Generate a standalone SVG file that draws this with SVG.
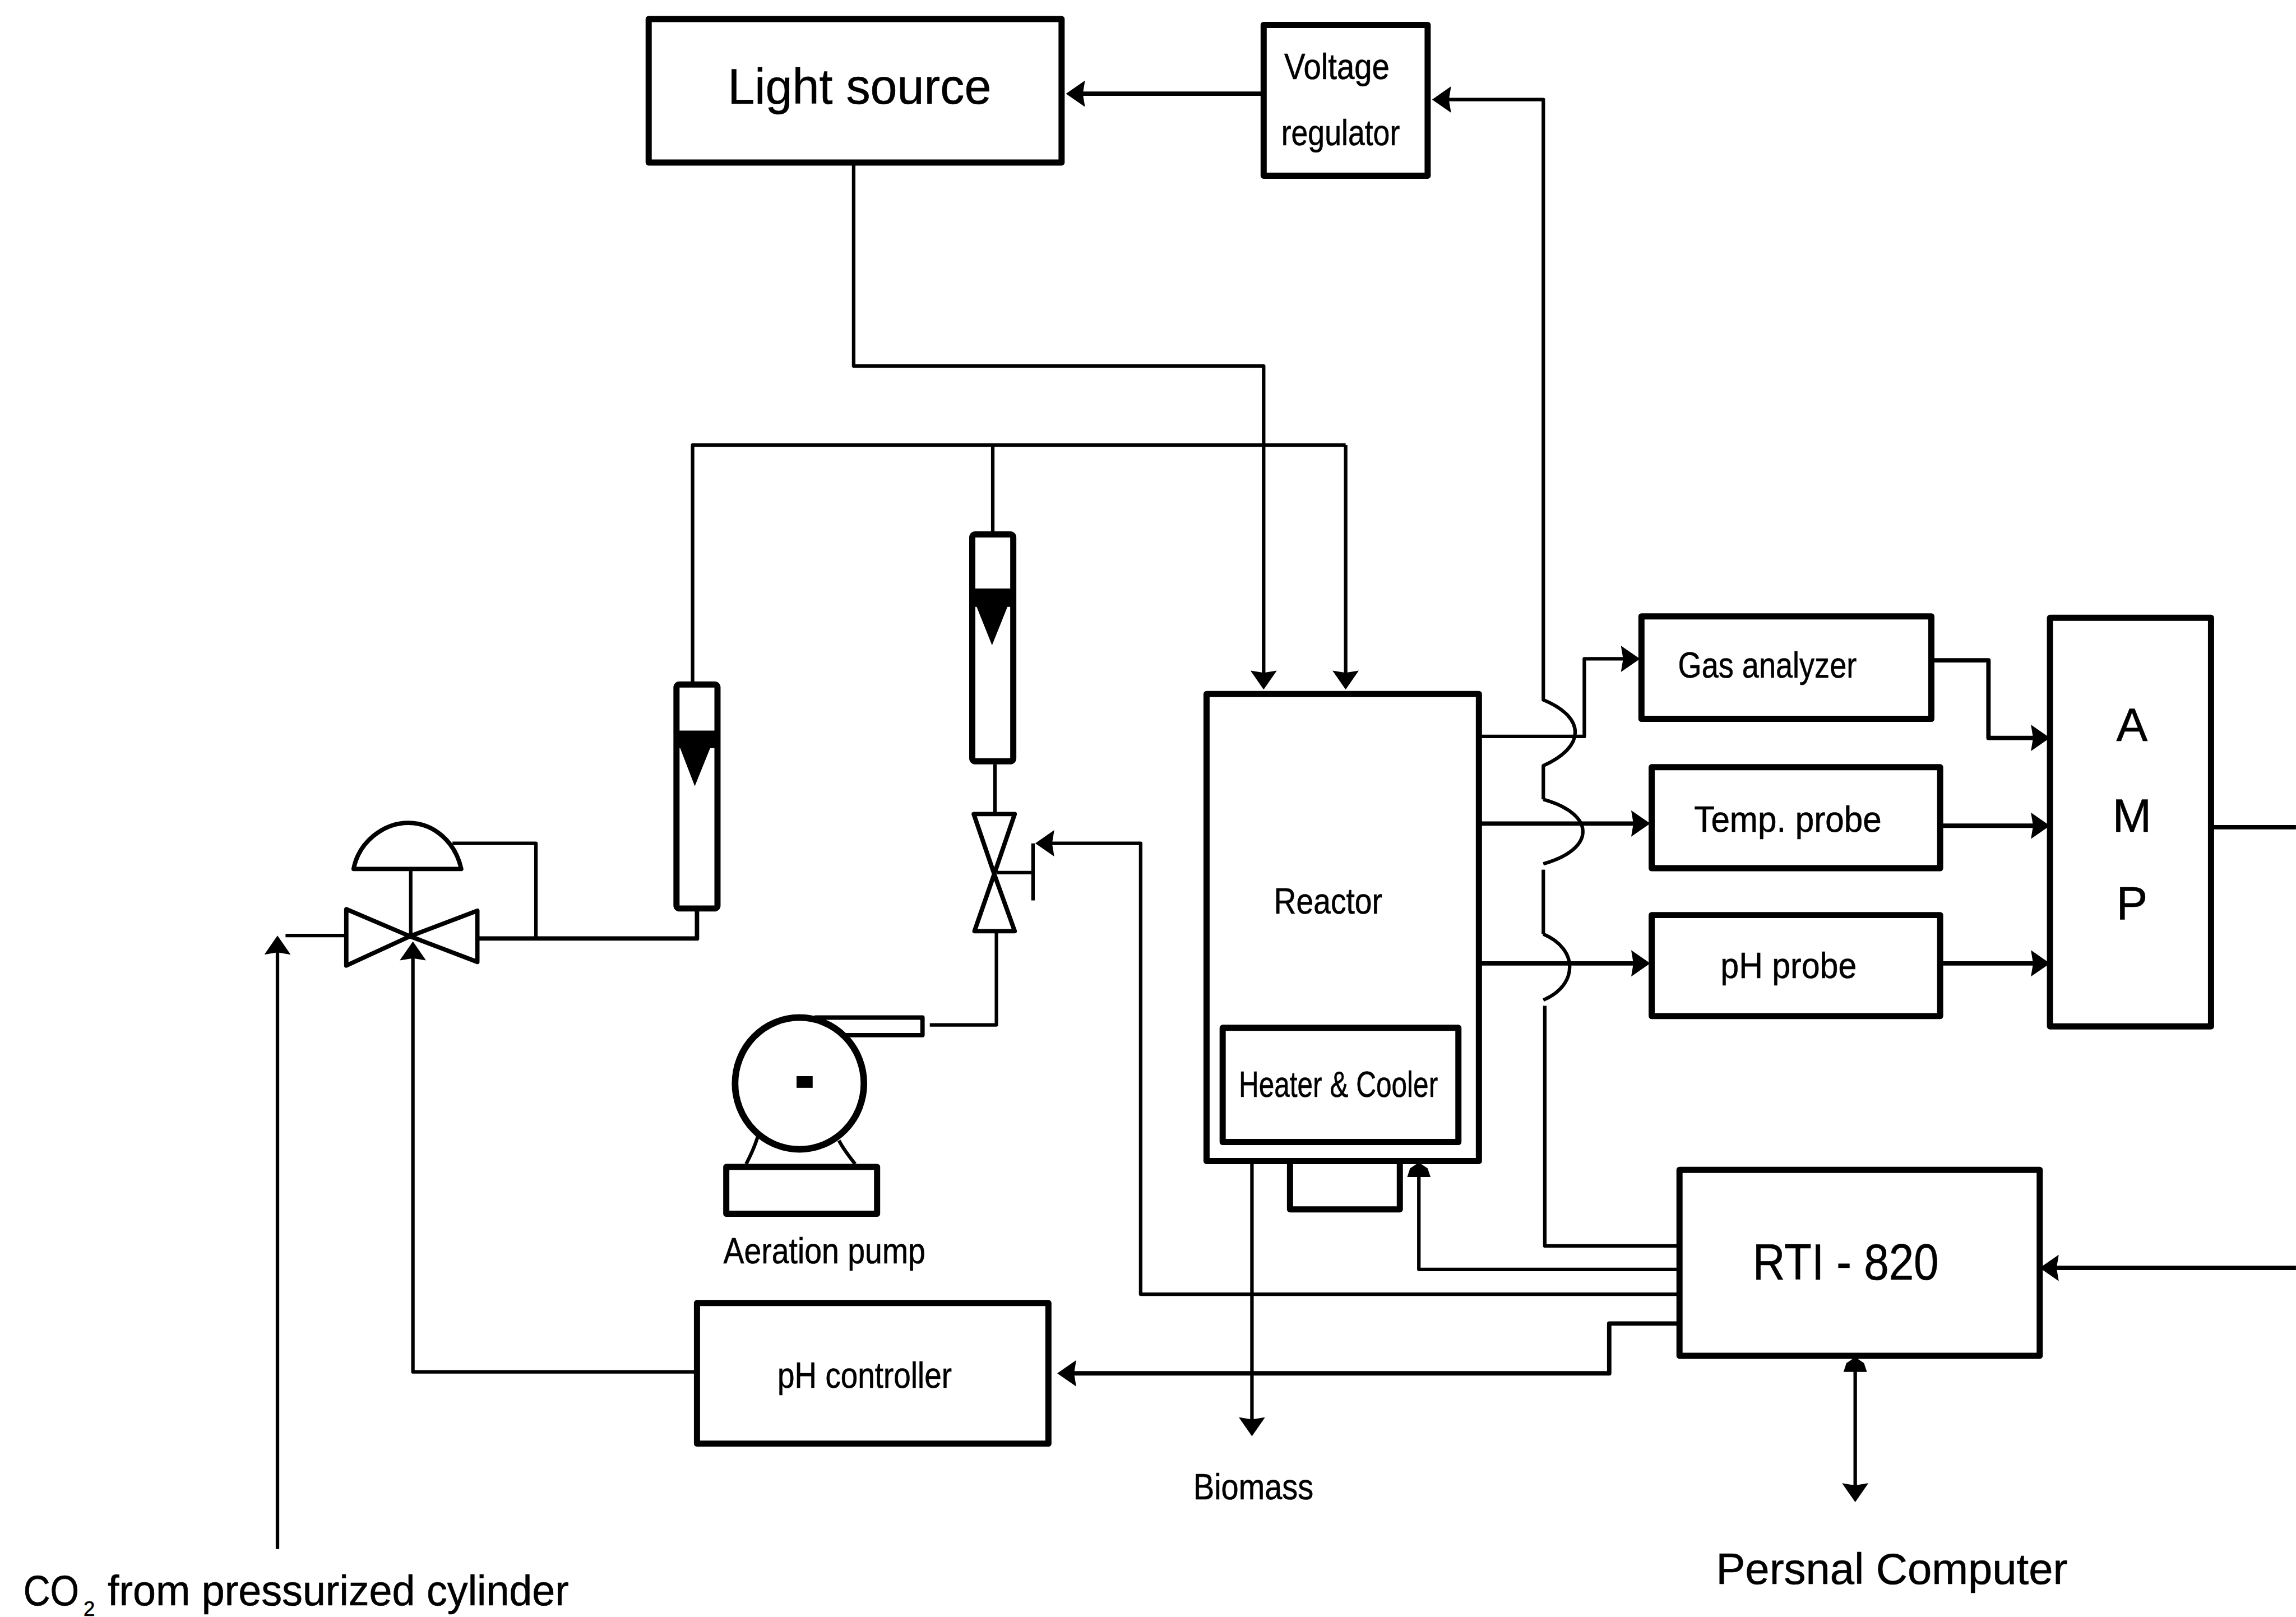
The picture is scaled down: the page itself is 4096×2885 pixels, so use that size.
<svg xmlns="http://www.w3.org/2000/svg" width="4096" height="2885" viewBox="0 0 4096 2885">
<style>
text{font-family:"Liberation Sans",Arial,sans-serif;fill:#000;stroke:#000;stroke-width:.25px;font-size:25px}
.b{fill:#fff;stroke:#000;stroke-width:4.2;stroke-linejoin:round}
.m{fill:#fff;stroke:#000;stroke-width:3;stroke-linejoin:round}
.w{fill:none;stroke:#000;stroke-width:2.4;stroke-linejoin:round}
.t{fill:none;stroke:#000;stroke-width:3;stroke-linejoin:round}
.a{marker-end:url(#arrow)}
.s{marker-end:url(#short)}
.k{fill:#000;stroke:none}
</style>
<defs>
<marker id="arrow" markerUnits="userSpaceOnUse" viewBox="0 0 13 18" markerWidth="13" markerHeight="18" refX="9" refY="9" orient="auto-start-reverse"><polygon points="0,0 13,9 0,18 1.500,9" fill="#000"/></marker>
<marker id="short" markerUnits="userSpaceOnUse" viewBox="0 0 10 18" markerWidth="10" markerHeight="18" refX="6" refY="9" orient="auto-start-reverse"><polygon points="0,1 6,3 10,9 6,15 0,17" fill="#000"/></marker>
</defs>
<rect width="4096" height="2885" fill="#fff"/>
<g transform="scale(2.6122)">
<g id="connectors">
<path class="t a" d="M862,64H732"/>
<path class="w" d="M1146,851H1055V687"/>
<path class="w" d="M1054,638C1078,648 1078,673 1054,683"/>
<path class="w" d="M1054,594V638"/>
<path class="w" d="M1054,546C1090,556 1090,580 1054,590"/>
<path class="w a" d="M1054,546V523C1083,510 1083,490 1054,478V68H982"/>
<path class="w a" d="M583,112V250H863V467"/>
<path class="w" d="M473,466V304H919"/>
<path class="w a" d="M919,304V467"/>
<path class="w" d="M678,364V304"/>
<path class="w a" d="M1010,503H1082V450H1116"/>
<path class="t a" d="M1010,562.500H1123"/>
<path class="t a" d="M1010,658H1123"/>
<path class="t a" d="M1320,451H1358V504H1396"/>
<path class="t a" d="M1325,564H1396"/>
<path class="t a" d="M1325,658H1396"/>
<path class="t" d="M1510,565H1568"/>
<path class="t a" d="M1568,866H1397"/>
<path class="w s" d="M1146,867H969V798"/>
<path class="w a" d="M1146,884H779V576H711"/>
<path class="t a" d="M1146,904H1099V938H726"/>
<path class="w a" d="M855,794V977"/>
<path class="w" style="marker-start:url(#short);marker-end:url(#arrow)" d="M1267,931V1022"/>
<path class="w a" d="M475,937H282V647"/>
<path class="w a" d="M189.500,1058V643"/>
<path class="w" d="M195,639H236"/>
<path class="t" d="M326,641H476V622"/>
<path class="w" d="M366,641V576H309"/>
<path class="w" d="M679.500,522V556"/>
<path class="w" d="M680.500,637V700H635"/>
<path class="w" d="M681,596H705M705.500,576V615"/>
</g>
<g id="light-source"><rect class="b" x="443" y="13" width="282" height="98"/><text x="497" y="71" style="font-size:34px" textLength="180" lengthAdjust="spacingAndGlyphs">Light source</text></g>
<g id="voltage-regulator"><rect class="b" x="863" y="17" width="112" height="103"/><text x="877" y="54" textLength="72" lengthAdjust="spacingAndGlyphs">Voltage</text><text x="875" y="99" textLength="81" lengthAdjust="spacingAndGlyphs">regulator</text></g>
<g id="rotameter-1"><rect class="b" x="462" y="467.500" width="28" height="153" rx="2"/><polygon class="k" points="461,499 491,499 491,511 485,511 474.500,537 464.500,511 461,511"/></g>
<g id="rotameter-2"><rect class="b" x="664" y="365" width="28" height="155" rx="2"/><polygon class="k" points="663,402 692,402 692,414.500 688,414.500 677.500,440.700 667,414.500 663,414.500"/></g>
<g id="control-valve">
<path class="m" d="M241.500,593.500C245,575 262,562 279,562C296,562 311,575 315,593.500Z"/>
<path class="w" d="M280.500,594V640"/>
<polygon class="m" points="236.500,621 236.500,659.500 280,639.500"/>
<polygon class="m" points="326,622 326,657 280,639.500"/>
</g>
<g id="aeration-valve"><polygon class="m" points="665,556 693,556 679,597"/><polygon class="m" points="665.500,636 693,636 679,597"/></g>
<g id="aeration-pump">
<rect class="m" x="557" y="695" width="73" height="12"/>
<path class="w" d="M517.700,775.600C515,785 512,790 509.600,795M573,779C576,785 580,790 584,795"/>
<ellipse cx="546" cy="740" rx="44" ry="45" fill="#fff" stroke="#000" stroke-width="4.500"/>
<rect class="k" x="544" y="735" width="11" height="8"/>
<rect class="b" x="496" y="797" width="103" height="32"/>
<text x="494" y="863" textLength="138" lengthAdjust="spacingAndGlyphs">Aeration pump</text>
</g>
<g id="reactor"><rect class="b" x="881" y="780" width="75" height="46"/><rect class="b" x="824" y="474" width="186" height="319"/><text x="870" y="624" textLength="74" lengthAdjust="spacingAndGlyphs">Reactor</text></g>
<g id="heater-cooler"><rect class="b" x="835" y="702" width="161" height="78"/><text x="846" y="749" textLength="136" lengthAdjust="spacingAndGlyphs">Heater &amp; Cooler</text></g>
<g id="gas-analyzer"><rect class="b" x="1121" y="421" width="198" height="70"/><text x="1146" y="463" textLength="122" lengthAdjust="spacingAndGlyphs">Gas analyzer</text></g>
<g id="temp-probe"><rect class="b" x="1128" y="524" width="197" height="69"/><text x="1157" y="568" textLength="128" lengthAdjust="spacingAndGlyphs">Temp. probe</text></g>
<g id="ph-probe"><rect class="b" x="1128" y="625" width="197" height="69"/><text x="1175" y="668" textLength="93" lengthAdjust="spacingAndGlyphs">pH probe</text></g>
<g id="amp"><rect class="b" x="1400" y="422" width="110" height="279"/><text x="1456" y="506" text-anchor="middle" style="font-size:32px">A</text><text x="1456" y="568" text-anchor="middle" style="font-size:32px">M</text><text x="1456" y="628" text-anchor="middle" style="font-size:32px">P</text></g>
<g id="rti-820"><rect class="b" x="1147" y="799" width="246" height="127"/><text x="1197" y="874" style="font-size:35px" textLength="127" lengthAdjust="spacingAndGlyphs">RTI - 820</text></g>
<g id="ph-controller"><rect class="b" x="476" y="890" width="240" height="96"/><text x="531" y="948" textLength="119" lengthAdjust="spacingAndGlyphs">pH controller</text></g>
<g id="labels">
<text x="815" y="1024" textLength="82" lengthAdjust="spacingAndGlyphs">Biomass</text>
<text x="1172" y="1082" style="font-size:30px" textLength="240" lengthAdjust="spacingAndGlyphs">Persnal Computer</text>
<text x="16" y="1096.500" style="font-size:29px" textLength="38" lengthAdjust="spacingAndGlyphs">CO</text>
<text x="57" y="1103.500" style="font-size:14px">2</text>
<text x="73.500" y="1096.500" style="font-size:29px" textLength="315" lengthAdjust="spacingAndGlyphs">from pressurized cylinder</text>
</g>
</g>
</svg>
